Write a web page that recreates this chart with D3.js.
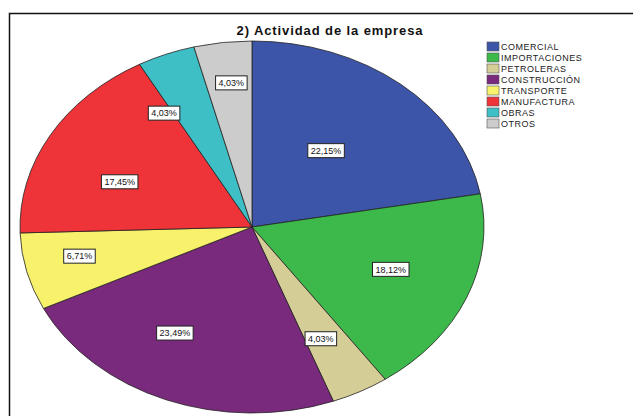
<!DOCTYPE html>
<html>
<head>
<meta charset="utf-8">
<script src="https://cdn.jsdelivr.net/npm/d3@7"></script>
<style>
  body { margin: 0; background: #fff; }
  svg { display: block; font-family: "Liberation Sans", Arial, sans-serif; }
</style>
</head>
<body>
<svg id="chart" width="633" height="416"></svg>
<script>
const categories = ['COMERCIAL', 'IMPORTACIONES', 'PETROLERAS', 'CONSTRUCCIÓN',
  'TRANSPORTE', 'MANUFACTURA', 'OBRAS', 'OTROS'];
const percents = [22.15, 18.12, 4.03, 23.49, 6.71, 17.45, 4.03, 4.03];
const colours = ['#3d55a8', '#3cb94a', '#d5cd96', '#7a2a7c', '#f8f16c', '#ee3339', '#3ebfc5', '#cccccc'];
const title = '2) Actividad de la empresa';

// where SPSS dropped each label: share of radius, angle nudge (deg)
const labelR = [0.52, 0.64, 0.67, 0.66, 0.76, 0.62, 0.72, 0.78];
const labelNudge = [-2, -1.5, 1.5, 8.5, 2, -6.5, -10, 0.7];

const svg = d3.select('#chart');
const cx = 252, cy = 227, rx = 232, ry = 186;

svg.append('rect')
  .attr('x', 9.5).attr('y', 13.5)
  .attr('width', 640).attr('height', 420)
  .attr('fill', 'none').attr('stroke', '#111').attr('stroke-width', 1.5);

svg.append('text')
  .attr('x', 330).attr('y', 35)
  .attr('text-anchor', 'middle')
  .attr('font-size', 13).attr('font-weight', 'bold')
  .attr('letter-spacing', 0.9)
  .attr('fill', '#111')
  .text(title);

const data = categories.map((c, i) => ({ name: c, value: percents[i], colour: colours[i] }));
const pie = d3.pie().sort(null).value(d => d.value);
const arcs = pie(data);
const arc = d3.arc().innerRadius(0).outerRadius(ry);

const g = svg.append('g')
  .attr('transform', `translate(${cx},${cy}) scale(${rx / ry},1)`);

g.selectAll('path')
  .data(arcs)
  .enter()
  .append('path')
  .attr('d', arc)
  .attr('fill', d => d.data.colour)
  .attr('stroke', '#222')
  .attr('stroke-width', 0.8)
  .attr('vector-effect', 'non-scaling-stroke');

const fmt = v => d3.format('.2f')(v).replace('.', ',') + '%';

const labels = svg.append('g').selectAll('g')
  .data(arcs)
  .enter()
  .append('g')
  .attr('transform', (d, i) => {
    const a = (d.startAngle + d.endAngle) / 2 + labelNudge[i] * Math.PI / 180;
    const x = cx + Math.sin(a) * rx * labelR[i];
    const y = cy - Math.cos(a) * ry * labelR[i];
    return `translate(${x},${y})`;
  });

labels.each(function(d) {
  const el = d3.select(this);
  const t = el.append('text')
    .attr('text-anchor', 'middle')
    .attr('dy', '0.35em')
    .attr('font-size', 9)
    .attr('fill', '#111')
    .text(fmt(d.data.value));
  const w = t.node().getComputedTextLength() + 6;
  el.insert('rect', 'text')
    .attr('x', -w / 2).attr('y', -7)
    .attr('width', w).attr('height', 14)
    .attr('fill', '#fff').attr('stroke', '#222').attr('stroke-width', 1);
});

const legend = svg.append('g').attr('transform', 'translate(487,42)');
const rows = legend.selectAll('g')
  .data(data)
  .enter()
  .append('g')
  .attr('transform', (d, i) => `translate(0,${i * 11})`);

rows.append('rect')
  .attr('width', 12).attr('height', 9)
  .attr('fill', d => d.colour)
  .attr('stroke', '#555').attr('stroke-width', 0.6);

rows.append('text')
  .attr('x', 14).attr('y', 8)
  .attr('font-size', 9)
  .attr('letter-spacing', 0.5)
  .attr('fill', '#222')
  .text(d => d.name);
</script>
</body>
</html>
